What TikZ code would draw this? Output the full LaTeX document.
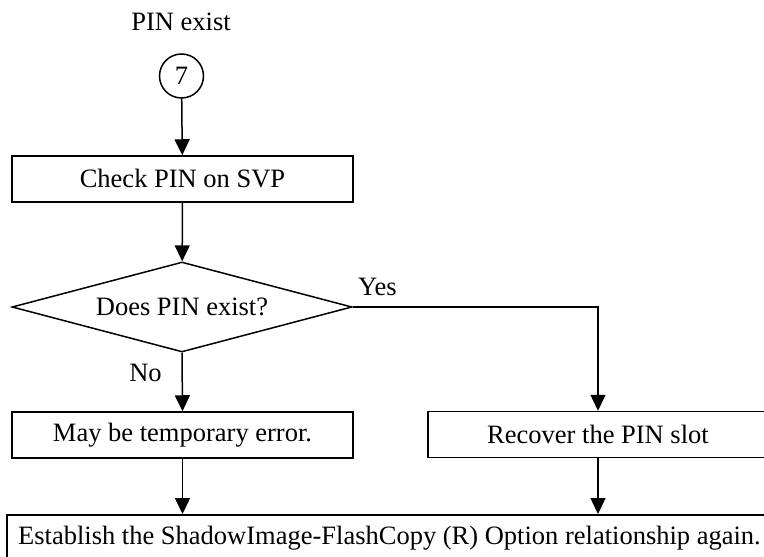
\documentclass[tikz,border=0pt]{standalone}
\usepackage{fontspec}
\setmainfont{Liberation Serif}
\usetikzlibrary{arrows.meta,shapes.geometric,positioning}

\begin{document}
\begin{tikzpicture}[
    x=1pt, y=1pt,
    every node/.style={font=\fontsize{26.5}{30}\selectfont},
    stp/.style={draw, line width=1.5pt, minimum height=46pt, inner sep=0pt, align=center},
    dec/.style={draw, diamond, aspect=3.78, line width=1.5pt, minimum width=340pt, minimum height=90pt, inner sep=0pt},
    con/.style={draw, circle, line width=1.5pt, minimum size=44pt, inner sep=0pt},
    arr/.style={-{Triangle[length=16pt,width=15pt]}, line width=1.5pt},
    lbl/.style={inner sep=0pt, anchor=base}
]
\clip (0,0) rectangle (764,-557);

\node[lbl] (ttl) at (181,-30) {PIN exist};
\node[con] (conn) at (181.5,-76) {7};
\node[stp, minimum width=341pt] (chk) at (182.5,-179) {Check PIN on SVP};
\node[dec] (ask) at (182,-307) {Does PIN exist?};
\node[stp, minimum width=341pt] (tmp) at (182.5,-435) {May be temporary error.};
\node[stp, minimum width=340pt] (rec) at (598,-434.5) {Recover the PIN slot};
\node[stp, minimum width=765pt, anchor=north] (est) at (389.5,-514)
    {Establish the ShadowImage-FlashCopy (R) Option relationship again.};

\node[lbl] (yes) at (377.5,-295) {Yes};
\node[lbl] (no) at (145.5,-381) {No};

\draw[arr] (conn) -- (chk);
\draw[arr] (chk) -- (ask);
\draw[arr] (ask.south) -- (tmp.north);
\draw[arr] (ask.east) -| (rec.north);
\draw[arr] (tmp.south) -- (tmp.south |- est.north);
\draw[arr] (rec.south) -- (rec.south |- est.north);
\end{tikzpicture}
\end{document}
